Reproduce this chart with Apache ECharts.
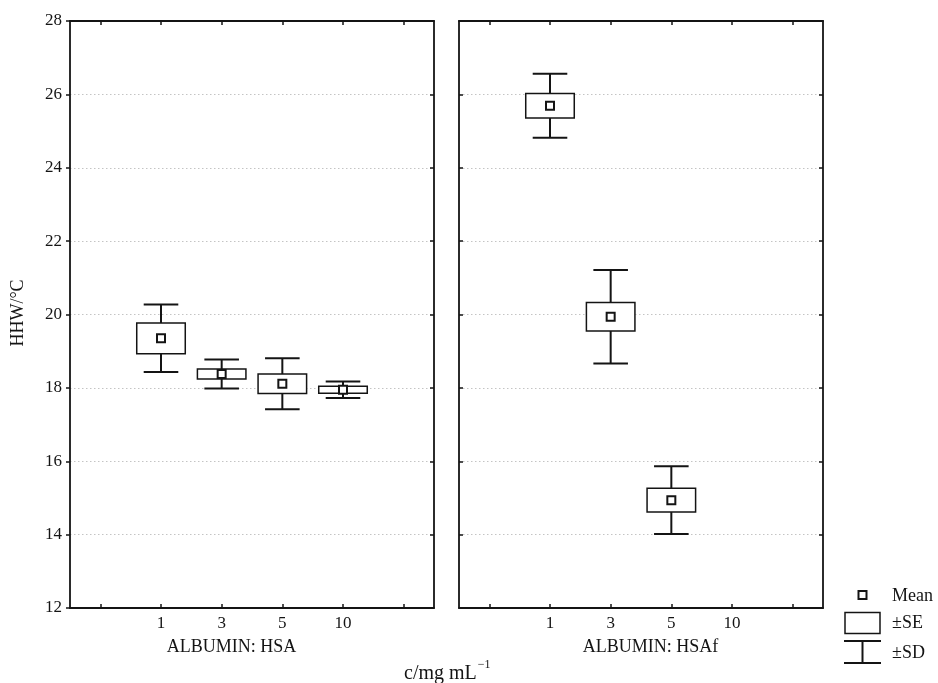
<!DOCTYPE html>
<html>
<head>
<meta charset="utf-8">
<script src="https://cdn.jsdelivr.net/npm/echarts@6/dist/echarts.min.js"></script>
<style>
  html, body { margin: 0; padding: 0; background: #fff; }
  #chart { width: 938px; height: 683px; }
</style>
</head>
<body>
<div id="chart"></div>
<script>
// x categories (empty slots on both ends, like the original plot)
var concLabels = ["", "1", "3", "5", "10", ""];
var yTicks = { min: 12, max: 28, step: 2 };

// HSA panel: category index, mean, SE, SD
var hsaIndex = [1, 2, 3, 4];
var hsaMean = [19.35, 18.38, 18.11, 17.95];
var hsaSE = [0.42, 0.135, 0.265, 0.095];
var hsaSD = [0.92, 0.395, 0.695, 0.225];

// HSAf panel (no value at 10)
var hsafIndex = [1, 2, 3];
var hsafMean = [25.69, 19.94, 14.94];
var hsafSE = [0.335, 0.39, 0.325];
var hsafSD = [0.87, 1.275, 0.925];

var ink = "#141414";
var serif = "Liberation Serif";

function buildData(idx, mean, se, sd) {
  return idx.map(function (c, i) {
    return [c, mean[i] - sd[i], mean[i] - se[i], mean[i], mean[i] + se[i], mean[i] + sd[i]];
  });
}

function renderBox(params, api) {
  var x = api.value(0);
  var loSD = api.coord([x, api.value(1)]);
  var loSE = api.coord([x, api.value(2)]);
  var mid = api.coord([x, api.value(3)]);
  var hiSE = api.coord([x, api.value(4)]);
  var hiSD = api.coord([x, api.value(5)]);
  var band = api.size([1, 0])[0];
  var boxW = band * 0.8;
  var capW = band * 0.57;
  var cx = mid[0];
  var whisker = { stroke: ink, lineWidth: 2 };
  return {
    type: "group",
    children: [
      { type: "line", shape: { x1: cx, y1: hiSD[1], x2: cx, y2: hiSE[1] }, style: whisker },
      { type: "line", shape: { x1: cx, y1: loSE[1], x2: cx, y2: loSD[1] }, style: whisker },
      { type: "line", shape: { x1: cx - capW / 2, y1: hiSD[1], x2: cx + capW / 2, y2: hiSD[1] }, style: whisker },
      { type: "line", shape: { x1: cx - capW / 2, y1: loSD[1], x2: cx + capW / 2, y2: loSD[1] }, style: whisker },
      {
        type: "rect",
        shape: { x: cx - boxW / 2, y: hiSE[1], width: boxW, height: loSE[1] - hiSE[1] },
        style: { fill: "#fff", stroke: ink, lineWidth: 1.5 }
      },
      {
        type: "rect",
        shape: { x: cx - 4, y: mid[1] - 4, width: 8, height: 8 },
        style: { fill: "#fff", stroke: ink, lineWidth: 2 }
      }
    ]
  };
}

function xAxisFor(grid, pos) {
  return {
    type: "category",
    gridIndex: grid,
    position: pos,
    data: concLabels,
    boundaryGap: true,
    axisLine: { lineStyle: { color: ink, width: 1.8 } },
    axisTick: { show: true, inside: true, length: 4, alignWithLabel: true, interval: 0, lineStyle: { color: ink, width: 1.5 } },
    axisLabel: { show: pos === "bottom", interval: 0, margin: 7, color: ink, fontFamily: serif, fontSize: 17 },
    splitLine: { show: false }
  };
}

function yAxisFor(grid, pos, inside, labels, gridLines) {
  return {
    type: "value",
    gridIndex: grid,
    position: pos,
    min: yTicks.min,
    max: yTicks.max,
    interval: yTicks.step,
    axisLine: { show: true, lineStyle: { color: ink, width: 1.8 } },
    axisTick: { show: true, inside: inside, length: 4, lineStyle: { color: ink, width: 1.5 } },
    axisLabel: { show: labels, margin: 8, color: ink, fontFamily: serif, fontSize: 17 },
    splitLine: { show: gridLines, lineStyle: { type: [1.5, 2.5], color: "#c4c4c4", width: 1 } }
  };
}

// width of the unit text, so the superscript sits right after it
var unitFont = "20px " + serif;
var ctx = document.createElement("canvas").getContext("2d");
ctx.font = unitFont;
var unitW = ctx.measureText("c/mg mL").width;

var chart = echarts.init(document.getElementById("chart"), null, { renderer: "canvas" });

chart.setOption({
  backgroundColor: "#fff",
  animation: false,
  grid: [
    { left: 70, top: 21, width: 364, height: 587 },
    { left: 459, top: 21, width: 364, height: 587 }
  ],
  xAxis: [
    xAxisFor(0, "bottom"),
    xAxisFor(0, "top"),
    xAxisFor(1, "bottom"),
    xAxisFor(1, "top")
  ],
  yAxis: [
    yAxisFor(0, "left", false, true, true),
    yAxisFor(0, "right", true, false, false),
    yAxisFor(1, "left", true, false, true),
    yAxisFor(1, "right", true, false, false)
  ],
  series: [
    {
      name: "HSA",
      type: "custom",
      xAxisIndex: 0,
      yAxisIndex: 0,
      renderItem: renderBox,
      encode: { x: 0, y: [1, 2, 3, 4, 5] },
      data: buildData(hsaIndex, hsaMean, hsaSE, hsaSD)
    },
    {
      name: "HSAf",
      type: "custom",
      xAxisIndex: 2,
      yAxisIndex: 2,
      renderItem: renderBox,
      encode: { x: 0, y: [1, 2, 3, 4, 5] },
      data: buildData(hsafIndex, hsafMean, hsafSE, hsafSD)
    }
  ],
  graphic: [
    // axis titles
    { type: "text", x: 231.5, y: 647, style: { text: "ALBUMIN: HSA", fill: ink, font: "18px " + serif, textAlign: "center", textVerticalAlign: "middle" } },
    { type: "text", x: 650.5, y: 647, style: { text: "ALBUMIN: HSAf", fill: ink, font: "18px " + serif, textAlign: "center", textVerticalAlign: "middle" } },
    { type: "text", x: 404, y: 674, style: { text: "c/mg mL", fill: ink, font: unitFont, textAlign: "left", textVerticalAlign: "middle" } },
    { type: "text", x: 404 + unitW + 1, y: 665, style: { text: "\u22121", fill: ink, font: "12px " + serif, textAlign: "left", textVerticalAlign: "middle" } },
    { type: "text", x: 18, y: 313, rotation: Math.PI / 2, style: { text: "HHW/\u00B0C", fill: ink, font: "18px " + serif, textAlign: "center", textVerticalAlign: "middle" } },
    // legend
    { type: "rect", shape: { x: 858.5, y: 591, width: 8, height: 8 }, style: { fill: "#fff", stroke: ink, lineWidth: 2 } },
    { type: "text", x: 892, y: 596, style: { text: "Mean", fill: ink, font: "18px " + serif, textVerticalAlign: "middle" } },
    { type: "rect", shape: { x: 845, y: 612.5, width: 35, height: 21 }, style: { fill: "#fff", stroke: ink, lineWidth: 1.5 } },
    { type: "text", x: 892, y: 623, style: { text: "\u00B1SE", fill: ink, font: "18px " + serif, textVerticalAlign: "middle" } },
    { type: "line", shape: { x1: 844, y1: 641, x2: 881, y2: 641 }, style: { stroke: ink, lineWidth: 2 } },
    { type: "line", shape: { x1: 862.5, y1: 641, x2: 862.5, y2: 663 }, style: { stroke: ink, lineWidth: 2 } },
    { type: "line", shape: { x1: 844, y1: 663, x2: 881, y2: 663 }, style: { stroke: ink, lineWidth: 2 } },
    { type: "text", x: 892, y: 653, style: { text: "\u00B1SD", fill: ink, font: "18px " + serif, textVerticalAlign: "middle" } }
  ]
});
</script>
</body>
</html>
